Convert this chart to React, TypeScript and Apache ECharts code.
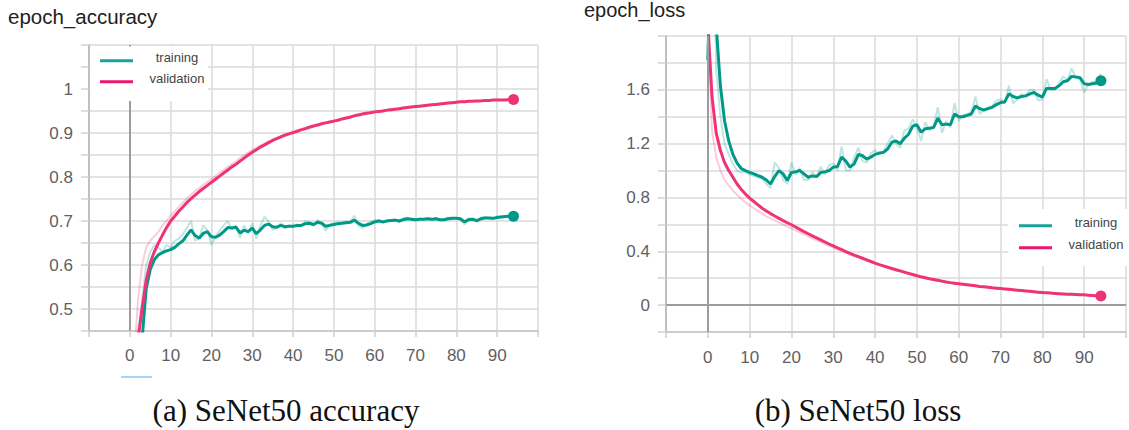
import React, { useEffect, useRef } from "react";
import * as echarts from "echarts";

// ---- data (index = epoch) ----
const accTrainSmooth = [
  0.30, 0.36, 0.40, 0.43, 0.545, 0.59, 0.612, 0.623, 0.628, 0.632,
  0.635, 0.64, 0.648, 0.655, 0.668, 0.68, 0.667, 0.661, 0.672, 0.676,
  0.664, 0.663, 0.668, 0.676, 0.685, 0.684, 0.686, 0.673, 0.679, 0.676,
  0.684, 0.671, 0.68, 0.69, 0.693, 0.687, 0.686, 0.69, 0.687, 0.688,
  0.688, 0.69, 0.69, 0.694, 0.695, 0.692, 0.697, 0.695, 0.688, 0.69,
  0.692, 0.694, 0.695, 0.696, 0.697, 0.702, 0.695, 0.69, 0.691, 0.694,
  0.698, 0.70, 0.698, 0.70, 0.701, 0.702, 0.70, 0.703, 0.705, 0.704,
  0.703, 0.704, 0.704, 0.705, 0.704, 0.705, 0.703, 0.703, 0.705, 0.706,
  0.706, 0.705, 0.698, 0.703, 0.704, 0.701, 0.705, 0.707, 0.707, 0.706,
  0.708, 0.709, 0.71, 0.711, 0.711,
];
const accTrainRaw = [
  0.30, 0.40, 0.45, 0.52, 0.60, 0.63, 0.645, 0.64, 0.63, 0.645,
  0.64, 0.655, 0.66, 0.67, 0.685, 0.70, 0.655, 0.662, 0.69, 0.68,
  0.645, 0.665, 0.678, 0.69, 0.70, 0.682, 0.69, 0.662, 0.69, 0.672,
  0.695, 0.66, 0.69, 0.71, 0.698, 0.68, 0.684, 0.695, 0.683, 0.69,
  0.686, 0.693, 0.688, 0.70, 0.697, 0.688, 0.703, 0.693, 0.678, 0.693,
  0.695, 0.697, 0.695, 0.699, 0.698, 0.712, 0.69, 0.684, 0.693, 0.698,
  0.702, 0.702, 0.695, 0.703, 0.702, 0.704, 0.697, 0.707, 0.708, 0.703,
  0.702, 0.706, 0.704, 0.707, 0.702, 0.707, 0.701, 0.704, 0.708, 0.707,
  0.706, 0.703, 0.692, 0.707, 0.705, 0.698, 0.708, 0.709, 0.707, 0.705,
  0.711, 0.71, 0.712, 0.712, 0.711,
];
const accValSmooth = [
  0.20, 0.30, 0.43, 0.50, 0.565, 0.605, 0.63, 0.65, 0.668, 0.685,
  0.70, 0.711, 0.722, 0.732, 0.742, 0.751, 0.759, 0.767, 0.774, 0.781,
  0.788, 0.795, 0.802, 0.809, 0.816, 0.823, 0.829, 0.836, 0.843, 0.85,
  0.856, 0.862, 0.868, 0.873, 0.878, 0.883, 0.887, 0.891, 0.895, 0.898,
  0.901, 0.904, 0.907, 0.91, 0.913, 0.916, 0.918, 0.921, 0.923, 0.925,
  0.927, 0.929, 0.932, 0.934, 0.936, 0.939, 0.941, 0.943, 0.945, 0.946,
  0.948, 0.949, 0.95, 0.952, 0.953, 0.954, 0.955, 0.957, 0.958, 0.959,
  0.96, 0.961, 0.962, 0.963, 0.964, 0.965, 0.966, 0.967, 0.968, 0.969,
  0.97, 0.971, 0.971, 0.972, 0.972, 0.973, 0.973, 0.974, 0.974, 0.975,
  0.975, 0.975, 0.975, 0.976, 0.976,
];
const accValRaw = [
  0.25, 0.38, 0.52, 0.60, 0.64, 0.655, 0.665, 0.675, 0.69, 0.70,
  0.712, 0.722, 0.732, 0.742, 0.751, 0.76, 0.768, 0.775, 0.782, 0.789,
  0.796, 0.802, 0.81, 0.816, 0.823, 0.83, 0.835, 0.843, 0.85, 0.856,
  0.862, 0.867, 0.872, 0.876, 0.881, 0.886, 0.889, 0.893, 0.897, 0.9,
  0.903, 0.906, 0.909, 0.912, 0.915, 0.917, 0.92, 0.922, 0.924, 0.926,
  0.928, 0.931, 0.933, 0.935, 0.938, 0.94, 0.942, 0.944, 0.946, 0.947,
  0.949, 0.95, 0.951, 0.953, 0.954, 0.955, 0.956, 0.958, 0.959, 0.96,
  0.961, 0.962, 0.963, 0.964, 0.965, 0.966, 0.967, 0.968, 0.969, 0.97,
  0.971, 0.971, 0.972, 0.972, 0.973, 0.973, 0.974, 0.974, 0.975, 0.975,
  0.976, 0.975, 0.976, 0.976, 0.976,
];
const lossTrainSmooth = [
  1.82, 2.9, 2.08, 1.63, 1.37, 1.22, 1.12, 1.055, 1.015, 1.0,
  0.987, 0.975, 0.962, 0.95, 0.93, 0.9, 0.955, 1.0, 0.975, 0.926,
  0.985, 0.99, 1.0, 0.975, 0.95, 0.96, 0.955, 0.985, 0.99, 1.0,
  1.025, 1.03, 1.1, 1.07, 1.025, 1.05, 1.12, 1.11, 1.085, 1.1,
  1.12, 1.13, 1.135, 1.16, 1.21, 1.22, 1.2, 1.24, 1.27, 1.33,
  1.34, 1.285, 1.31, 1.315, 1.32, 1.39, 1.34, 1.345, 1.34, 1.42,
  1.40, 1.40, 1.41, 1.42, 1.48, 1.46, 1.45, 1.46, 1.47, 1.49,
  1.505, 1.51, 1.57, 1.55, 1.54, 1.55, 1.555, 1.57, 1.58, 1.56,
  1.545, 1.61, 1.61, 1.61, 1.63, 1.66, 1.667, 1.70, 1.696, 1.69,
  1.645, 1.64, 1.645, 1.65, 1.667,
];
const lossTrainRaw = [
  1.82, 3.6, 1.75, 1.4, 1.2, 1.12, 1.05, 1.0, 0.985, 0.99,
  0.97, 0.96, 0.95, 0.94, 0.9, 0.87, 1.06, 1.02, 0.93, 0.9,
  1.06, 0.97, 1.02, 0.93, 0.93, 0.99, 0.95, 1.03, 0.97, 1.04,
  1.05, 1.0, 1.18, 1.0, 1.0, 1.1, 1.17, 1.07, 1.06, 1.13,
  1.15, 1.12, 1.14, 1.2, 1.26, 1.2, 1.17, 1.3, 1.31, 1.38,
  1.32, 1.22, 1.36, 1.3, 1.33, 1.47, 1.28, 1.37, 1.32, 1.5,
  1.37, 1.41, 1.42, 1.43, 1.55, 1.42, 1.45, 1.47, 1.48, 1.52,
  1.53, 1.5, 1.63, 1.5, 1.53, 1.57, 1.55, 1.6, 1.6, 1.52,
  1.53, 1.68, 1.6, 1.6, 1.65, 1.7, 1.67, 1.76, 1.69, 1.68,
  1.58, 1.64, 1.66, 1.66, 1.72,
];
const lossValSmooth = [
  2.1, 1.55, 1.28, 1.15, 1.06, 1.0, 0.95, 0.9, 0.86, 0.825,
  0.795, 0.77, 0.745, 0.72, 0.70, 0.68, 0.662, 0.645, 0.628, 0.612,
  0.597, 0.58, 0.563, 0.546, 0.53, 0.514, 0.499, 0.484, 0.469, 0.454,
  0.44, 0.426, 0.412, 0.398, 0.385, 0.372, 0.36, 0.348, 0.336, 0.324,
  0.312, 0.301, 0.291, 0.281, 0.272, 0.263, 0.254, 0.245, 0.236, 0.227,
  0.218, 0.21, 0.203, 0.196, 0.19, 0.184, 0.178, 0.172, 0.167, 0.163,
  0.159, 0.155, 0.151, 0.147, 0.143, 0.139, 0.136, 0.133, 0.129, 0.126,
  0.123, 0.12, 0.117, 0.114, 0.111, 0.108, 0.105, 0.102, 0.099, 0.096,
  0.093, 0.091, 0.089, 0.087, 0.085, 0.083, 0.081, 0.08, 0.079, 0.077,
  0.076, 0.074, 0.072, 0.07, 0.068,
];
const lossValRaw = [
  2.1, 1.3, 1.1, 1.0, 0.93, 0.89, 0.85, 0.82, 0.79, 0.765,
  0.74, 0.72, 0.70, 0.68, 0.66, 0.645, 0.63, 0.615, 0.60, 0.585,
  0.57, 0.555, 0.54, 0.525, 0.51, 0.496, 0.482, 0.468, 0.454, 0.44,
  0.427, 0.414, 0.401, 0.388, 0.376, 0.364, 0.353, 0.342, 0.331, 0.32,
  0.308, 0.297, 0.287, 0.277, 0.268, 0.259, 0.25, 0.241, 0.232, 0.223,
  0.214, 0.207, 0.2, 0.193, 0.187, 0.181, 0.175, 0.169, 0.165, 0.161,
  0.157, 0.153, 0.149, 0.145, 0.141, 0.137, 0.134, 0.131, 0.127, 0.124,
  0.121, 0.118, 0.115, 0.112, 0.109, 0.106, 0.103, 0.1, 0.097, 0.094,
  0.092, 0.09, 0.088, 0.086, 0.084, 0.082, 0.08, 0.079, 0.078, 0.076,
  0.075, 0.073, 0.071, 0.069, 0.067,
];

const xTickLabels = ["0", "10", "20", "30", "40", "50", "60", "70", "80", "90"];
const accTickLabels = ["0.5", "0.6", "0.7", "0.8", "0.9", "1"];
const lossTickLabels = ["0", "0.4", "0.8", "1.2", "1.6"];
const legendNames = ["training", "validation"];
const titles = ["epoch_accuracy", "epoch_loss"];
const captions = ["(a) SeNet50 accuracy", "(b) SeNet50 loss"];

const TEAL = "#009988";
const PINK = "#ee3377";
const LABEL = "#5f5f5f";
const GRID = "#dadada";
const SANS = "'Liberation Sans', Arial, sans-serif";
const SERIF = "'Liberation Serif', 'DejaVu Serif', serif";

const pts = (arr: number[]) => arr.map((v, i) => [i, v]);
const last = (arr: number[]) => [[arr.length - 1, arr[arr.length - 1]]];
const fmtY = (list: string[]) => (v: number) => {
  const s = String(Math.round(v * 100) / 100);
  return list.includes(s) ? s : "";
};
const fmtX = (v: number) => {
  const s = String(Math.round(v));
  return xTickLabels.includes(s) ? s : "";
};

function xAxisCfg(gridIndex: number, margin: number) {
  return {
    gridIndex,
    type: "value",
    min: -10,
    max: 100,
    interval: 10,
    axisLine: { show: true, onZero: false, lineStyle: { color: "#c4c4c4", width: 1.5 } },
    axisTick: { show: true, length: 6, lineStyle: { color: "#cfcfcf", width: 1.5 } },
    axisLabel: { formatter: fmtX, color: LABEL, fontSize: 17, fontFamily: SANS, margin },
    splitLine: { show: true, lineStyle: { color: GRID, width: 1.5 } },
  };
}
function yAxisCfg(gridIndex: number, min: number, max: number, interval: number, list: string[]) {
  return {
    gridIndex,
    type: "value",
    min,
    max,
    interval,
    axisLine: { show: true, onZero: false, lineStyle: { color: "#b4b4b4", width: 1.5 } },
    axisTick: { show: true, length: 8, lineStyle: { color: "#d2d2d2", width: 1.5 } },
    axisLabel: { formatter: fmtY(list), color: LABEL, fontSize: 17, fontFamily: SANS, margin: 16 },
    splitLine: { show: true, lineStyle: { color: GRID, width: 1.5 } },
  };
}

function lineSeries(idx: number, data: number[], color: string, raw: boolean, markData?: any[]) {
  const s: any = {
    type: "line",
    xAxisIndex: idx,
    yAxisIndex: idx,
    data: pts(data),
    showSymbol: false,
    symbol: "none",
    smooth: false,
    z: raw ? 2 : 3,
    lineStyle: { color, width: raw ? 2 : 3, opacity: raw ? 0.25 : 1 },
    itemStyle: { color },
  };
  if (markData) {
    s.markLine = {
      silent: true,
      symbol: "none",
      label: { show: false },
      lineStyle: { color: "#9c9c9c", width: 2, type: "solid" },
      data: markData,
    };
  }
  return s;
}
function dotSeries(idx: number, data: number[], color: string) {
  return {
    type: "scatter",
    xAxisIndex: idx,
    yAxisIndex: idx,
    data: last(data),
    symbolSize: 11,
    z: 4,
    itemStyle: { color, opacity: 1 },
  };
}

function legendGraphics(x0: number, y0: number, w: number, h: number, lineX: number, textX: number, y1: number, y2: number) {
  return [
    { type: "rect", z: 100, shape: { x: x0, y: y0, width: w, height: h }, style: { fill: "#ffffff" } },
    { type: "line", z: 101, shape: { x1: lineX, y1: y1, x2: lineX + 33, y2: y1 }, style: { stroke: "#1aa39a", lineWidth: 3 } },
    { type: "line", z: 101, shape: { x1: lineX, y1: y2, x2: lineX + 33, y2: y2 }, style: { stroke: "#e8176f", lineWidth: 3 } },
    { type: "text", z: 101, x: textX, y: y1 - 3, style: { text: legendNames[0], fill: "#444", fontSize: 13, fontFamily: SANS, align: "center", verticalAlign: "middle" } },
    { type: "text", z: 101, x: textX, y: y2 - 3, style: { text: legendNames[1], fill: "#444", fontSize: 13, fontFamily: SANS, align: "center", verticalAlign: "middle" } },
  ];
}

export default function App() {
  const ref = useRef<HTMLDivElement>(null);
  useEffect(() => {
    if (!ref.current) return;
    const chart = echarts.init(ref.current, undefined, { renderer: "svg" });
    const option: any = {
      animation: false,
      backgroundColor: "#ffffff",
      grid: [
        { left: 89, top: 45, width: 449, height: 286 },
        { left: 666, top: 36, width: 466, height: 296 },
      ],
      xAxis: [xAxisCfg(0, 16), xAxisCfg(1, 17)],
      yAxis: [
        yAxisCfg(0, 0.45, 1.1, 0.05, accTickLabels),
        yAxisCfg(1, -0.2, 2.0, 0.2, lossTickLabels),
      ],
      series: [
        lineSeries(0, accTrainRaw, TEAL, true, [{ xAxis: 0 }]),
        lineSeries(0, accValRaw, PINK, true),
        lineSeries(0, accTrainSmooth, TEAL, false),
        lineSeries(0, accValSmooth, PINK, false),
        dotSeries(0, accTrainSmooth, TEAL),
        dotSeries(0, accValSmooth, PINK),
        lineSeries(1, lossTrainRaw, TEAL, true, [{ xAxis: 0 }, { yAxis: 0 }]),
        lineSeries(1, lossValRaw, PINK, true),
        lineSeries(1, lossTrainSmooth, TEAL, false),
        lineSeries(1, lossValSmooth, PINK, false),
        dotSeries(1, lossTrainSmooth, TEAL),
        dotSeries(1, lossValSmooth, PINK),
      ],
      graphic: [
        ...legendGraphics(90, 46.5, 118, 54.5, 100, 177, 60.7, 81.7),
        ...legendGraphics(1008, 209, 125, 57, 1019, 1096, 225.7, 247.7),
        { type: "text", z: 100, x: 8, y: 16, style: { text: titles[0], fill: "#212121", fontSize: 20.5, fontFamily: SANS, verticalAlign: "middle" } },
        { type: "text", z: 100, x: 584, y: 10, style: { text: titles[1], fill: "#212121", fontSize: 20, fontFamily: SANS, verticalAlign: "middle" } },
        { type: "text", z: 100, x: 286, y: 410, style: { text: captions[0], fill: "#111", fontSize: 31, fontFamily: SERIF, align: "center", verticalAlign: "middle" } },
        { type: "text", z: 100, x: 858, y: 410, style: { text: captions[1], fill: "#111", fontSize: 31, fontFamily: SERIF, align: "center", verticalAlign: "middle" } },
        { type: "line", z: 100, shape: { x1: 121, y1: 377, x2: 152, y2: 377 }, style: { stroke: "#8cc4f2", lineWidth: 1.5 } },
      ],
    };
    chart.setOption(option);
    return () => chart.dispose();
  }, []);
  return <div ref={ref} style={{ position: "absolute", left: 0, top: 0, width: 1129, height: 430 }} />;
}
